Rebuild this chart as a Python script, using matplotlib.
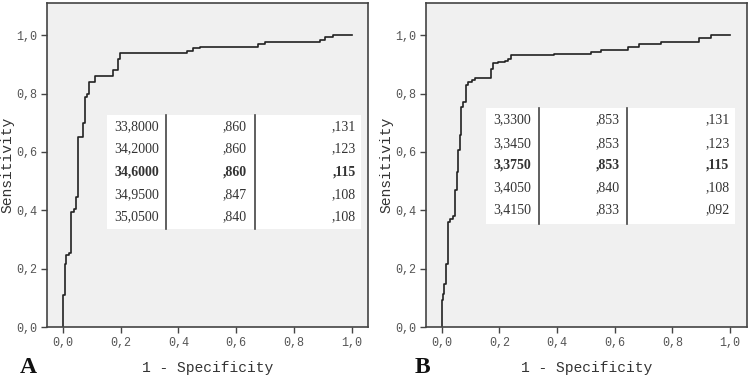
"""
ROC curves, panels A and B, with cut-off tables
"""

import matplotlib.pyplot as plt
from matplotlib.patches import Rectangle
import numpy as np

# ROC points for panel A (1 - specificity, sensitivity after the step)
fpr_A = [0.0, 0.0, 0.005, 0.010, 0.021, 0.028, 0.038, 0.045, 0.050, 0.068, 0.076,
         0.083, 0.090, 0.111, 0.151, 0.174, 0.189, 0.197, 0.428, 0.451, 0.475,
         0.677, 0.700, 0.890, 0.908, 0.936, 1.0]
tpr_A = [0.0, 0.109, 0.215, 0.246, 0.255, 0.394, 0.405, 0.446, 0.651, 0.700, 0.790,
         0.800, 0.840, 0.860, 0.860, 0.880, 0.917, 0.940, 0.947, 0.955, 0.960,
         0.970, 0.977, 0.985, 0.994, 1.0, 1.0]

# ROC points for panel B
fpr_B = [0.0, 0.0, 0.005, 0.007, 0.013, 0.020, 0.028, 0.037, 0.045, 0.051, 0.057,
         0.062, 0.068, 0.074, 0.083, 0.091, 0.103, 0.114, 0.172, 0.178, 0.195,
         0.218, 0.230, 0.241, 0.391, 0.518, 0.553, 0.646, 0.686, 0.761, 0.894,
         0.934, 1.0]
tpr_B = [0.0, 0.091, 0.114, 0.149, 0.217, 0.360, 0.371, 0.379, 0.469, 0.531, 0.606,
         0.657, 0.754, 0.771, 0.829, 0.840, 0.846, 0.855, 0.886, 0.905, 0.909,
         0.912, 0.917, 0.931, 0.935, 0.943, 0.949, 0.960, 0.971, 0.977, 0.989,
         1.0, 1.0]

# table contents (cut-off, sensitivity, 1 - specificity)
cut_A = ['33,8000', '34,2000', '34,6000', '34,9500', '35,0500']
sens_A = [',860', ',860', ',860', ',847', ',840']
spec_A = [',131', ',123', ',115', ',108', ',108']

cut_B = ['3,3300', '3,3450', '3,3750', '3,4050', '3,4150']
sens_B = [',853', ',853', ',853', ',840', ',833']
spec_B = [',131', ',123', ',115', ',108', ',092']

bold_row = 2
ticks = [0.0, 0.2, 0.4, 0.6, 0.8, 1.0]
tick_labels = ['0,0', '0,2', '0,4', '0,6', '0,8', '1,0']

mono = 'Liberation Mono'
serif = 'Liberation Serif'

fig = plt.figure(figsize=(7.49, 3.77), dpi=100)
axA = fig.add_axes([0.0623, 0.1326, 0.429, 0.859])
axB = fig.add_axes([0.5688, 0.1326, 0.428, 0.859])


def draw_panel(ax, fpr, tpr, cuts, sens, spec, box, xlim):
    ax.set_facecolor('#f0f0f0')
    ax.step(fpr, tpr, where='post', color='#222222', lw=1.2)
    ax.set_xlim(*xlim)
    ax.set_ylim(0, 1.11)
    ax.set_xticks(ticks)
    ax.set_xticklabels(tick_labels, family=mono, fontsize=8.5, color='#555555')
    ax.set_yticks(ticks)
    ax.set_yticklabels(tick_labels, family=mono, fontsize=8.5, color='#555555')
    ax.tick_params(length=4, width=1, color='#444444', pad=3)
    for s in ax.spines.values():
        s.set_color('#444444')
        s.set_linewidth(1.2)
    ax.set_ylabel('Sensitivity', family=mono, fontsize=10.5, color='#333333', labelpad=1)
    ax.set_xlabel('1 - Specificity', family=mono, fontsize=10.5, color='#333333', labelpad=9)

    # table box
    left, right, bottom, top, v1, v2, rows, c1, c2, c3 = box
    ax.add_patch(Rectangle((left, bottom), right - left, top - bottom,
                           facecolor='white', edgecolor='none', zorder=3))
    ax.plot([v1, v1], [bottom, top], color='#444444', lw=1.2, zorder=4)
    ax.plot([v2, v2], [bottom, top], color='#444444', lw=1.2, zorder=4)
    for i, y in enumerate(rows):
        w = 'bold' if i == bold_row else 'normal'
        for x, txt in zip([c1, c2, c3], [cuts[i], sens[i], spec[i]]):
            ax.text(x, y, txt, ha='right', va='center', family=serif,
                    fontsize=10, weight=w, color='#333333', zorder=5)


draw_panel(axA, fpr_A, tpr_A, cut_A, sens_A, spec_A,
           (0.152, 1.032, 0.336, 0.726, 0.357, 0.665,
            [0.685, 0.610, 0.531, 0.455, 0.377], 0.333, 0.637, 1.015),
           (-0.057, 1.057))
draw_panel(axB, fpr_B, tpr_B, cut_B, sens_B, spec_B,
           (0.152, 1.018, 0.353, 0.750, 0.336, 0.644,
            [0.709, 0.630, 0.555, 0.476, 0.401], 0.311, 0.617, 0.998),
           (-0.055, 1.058))

fig.text(0.026, 0.01, 'A', family=serif, fontsize=17, weight='bold', color='#111111')
fig.text(0.554, 0.01, 'B', family=serif, fontsize=17, weight='bold', color='#111111')

fig.savefig('out.png', dpi=100)
